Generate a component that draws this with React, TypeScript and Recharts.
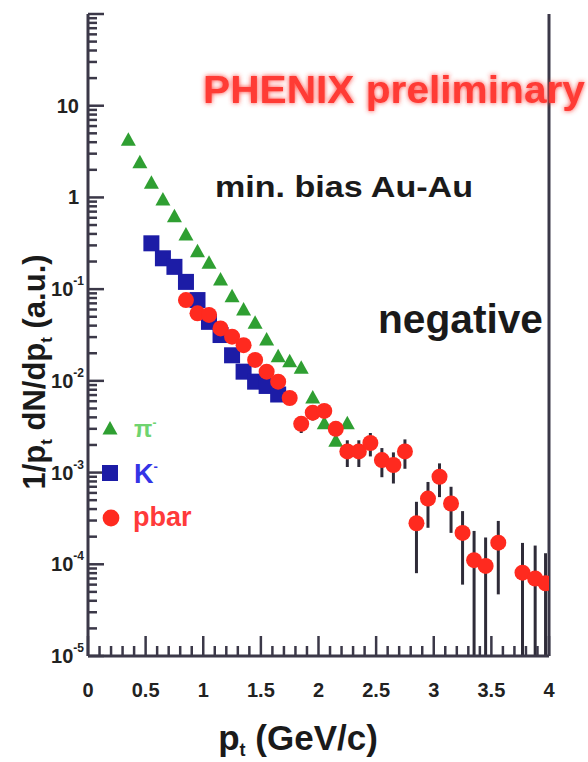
import React from 'react';
import { ScatterChart, Scatter, XAxis, YAxis, ErrorBar } from 'recharts';

// pi- (green triangles)
const piPt = [0.35, 0.45, 0.55, 0.65, 0.75, 0.85, 0.95, 1.05, 1.15, 1.25, 1.35, 1.45, 1.55, 1.65, 1.75, 1.85, 1.95, 2.05, 2.15, 2.25];
const piVal = [4.2, 2.39, 1.43, 0.94, 0.616, 0.389, 0.256, 0.191, 0.126, 0.0826, 0.0592, 0.0424, 0.0279, 0.0183, 0.0162, 0.0137, 0.0065, 0.0034, 0.0022, 0.0034];

// K- (blue squares)
const kPt = [0.55, 0.65, 0.75, 0.85, 0.95, 1.05, 1.15, 1.25, 1.35, 1.45, 1.55, 1.65];
const kVal = [0.316, 0.217, 0.175, 0.12, 0.076, 0.044, 0.0316, 0.019, 0.0126, 0.0098, 0.0088, 0.0071];

// pbar (red circles) with stat. errors
const pbarPt = [0.85, 0.95, 1.05, 1.15, 1.25, 1.35, 1.45, 1.55, 1.65, 1.75, 1.85, 1.95, 2.05, 2.15, 2.25, 2.35, 2.45, 2.55, 2.65, 2.75, 2.85, 2.95, 3.05, 3.15, 3.25, 3.35, 3.45, 3.56, 3.77, 3.88, 3.97];
const pbarVal = [0.076, 0.0545, 0.0524, 0.0373, 0.0303, 0.0245, 0.0169, 0.0126, 0.0098, 0.0065, 0.0034, 0.0045, 0.0047, 0.003, 0.0017, 0.0017, 0.0021, 0.00137, 0.00121, 0.0017, 0.00028, 0.00052, 0.0009, 0.00046, 0.00022, 0.000111, 0.000096, 0.000172, 0.000081, 0.00007, 0.000062];
const pbarErr = [0, 0, 0, 0, 0, 0, 0, 0, 0, 0, 0.0007, 0.0008, 0.0008, 0.0006, 0.00055, 0.00055, 0.0006, 0.00048, 0.00045, 0.0006, 0.0002, 0.00027, 0.00036, 0.00024, 0.00016, 0.00012, 0.0001, 0.000125, 0.00009, 0.00009, 0.00007];

const xMajor = [0, 0.5, 1, 1.5, 2, 2.5, 3, 3.5, 4];
const yDecades = [1e-5, 1e-4, 1e-3, 1e-2, 1e-1, 1, 10, 100];

const Y_MIN = 1e-5;
const AXIS = '#3b3848';
const FONT = '"Liberation Sans", Arial, sans-serif';

const xTicks: number[] = [];
for (let i = 0; i <= 40; i++) xTicks.push(i / 10);
const yTicks: number[] = [];
yDecades.forEach((d, i) => {
  yTicks.push(d);
  if (i < yDecades.length - 1) for (let m = 2; m <= 9; m++) yTicks.push(d * m);
});

const piData = piPt.map((x, i) => ({ x, y: piVal[i] }));
const kData = kPt.map((x, i) => ({ x, y: kVal[i] }));
// lower error stops at the axis minimum so the log scale stays valid
const pbarData = pbarPt.map((x, i) => ({
  x,
  y: pbarVal[i],
  err: [Math.min(pbarErr[i], pbarVal[i] - Y_MIN), pbarErr[i]],
}));

const Triangle = ({ cx, cy, s = 1 }: any) => (
  <polygon
    points={`${cx},${cy - 8 * s} ${cx - 7.5 * s},${cy + 5.5 * s} ${cx + 7.5 * s},${cy + 5.5 * s}`}
    fill="#2f9f32"
  />
);
const Square = ({ cx, cy, s = 1 }: any) => (
  <rect x={cx - 8 * s} y={cy - 8 * s} width={16 * s} height={16 * s} fill="#1c1ca6" />
);
const Circle = ({ cx, cy, s = 1 }: any) => <circle cx={cx} cy={cy} r={8 * s} fill="#ff2a1f" />;

const YTick = (props: any) => {
  const { x, y, payload } = props;
  const v = payload.value as number;
  const lg = Math.log10(v);
  const e = Math.round(lg);
  const major = Math.abs(lg - e) < 1e-6;
  let label = null;
  if (major && e < 2) {
    if (e >= 0) {
      label = (
        <text x={x - 9} y={y + 7} textAnchor="end" fontSize={20} fontWeight="bold" fill="#222" fontFamily={FONT}>
          {e === 1 ? '10' : '1'}
        </text>
      );
    } else {
      label = (
        <text x={x - 4} y={y + 7} textAnchor="end" fontSize={20} fontWeight="bold" fill="#222" fontFamily={FONT}>
          10
          <tspan dy={-11} fontSize={12}>{`${e}`}</tspan>
        </text>
      );
    }
  }
  return (
    <g>
      <line x1={x} x2={x + (major ? 16 : 9)} y1={y} y2={y} stroke={AXIS} strokeWidth={2.5} />
      {label}
    </g>
  );
};

const XTick = (props: any) => {
  const { x, y, payload } = props;
  const v = payload.value as number;
  const major = xMajor.some((m) => Math.abs(m - v) < 1e-6);
  return (
    <g>
      <line x1={x} x2={x} y1={y} y2={y - (major ? 20 : 10)} stroke={AXIS} strokeWidth={2.5} />
      {major && (
        <text x={x} y={y + 41} textAnchor="middle" fontSize={20} fontWeight="bold" fill="#222" fontFamily={FONT}>
          {String(Math.round(v * 10) / 10)}
        </text>
      )}
    </g>
  );
};

const txt = { fontFamily: FONT, fontWeight: 'bold' as const };

export default function App() {
  return (
    <div style={{ position: 'absolute', left: 0, top: 0, width: 588, height: 762, background: '#fff' }}>
      <ScatterChart width={588} height={762} margin={{ top: 14, right: 38, bottom: 0, left: 0 }}>
        <XAxis
          type="number"
          dataKey="x"
          domain={[0, 4]}
          ticks={xTicks}
          interval={0}
          tick={<XTick />}
          tickLine={false}
          tickSize={0}
          tickMargin={0}
          height={106}
          axisLine={{ stroke: AXIS, strokeWidth: 3 }}
          allowDataOverflow
        />
        <XAxis
          xAxisId="top"
          orientation="top"
          type="number"
          domain={[0, 4]}
          tick={false}
          tickLine={false}
          height={0}
          axisLine={{ stroke: AXIS, strokeWidth: 3 }}
        />
        <YAxis
          type="number"
          dataKey="y"
          scale="log"
          domain={[Y_MIN, 100]}
          ticks={yTicks}
          interval={0}
          tick={<YTick />}
          tickLine={false}
          tickSize={0}
          tickMargin={0}
          width={88}
          axisLine={{ stroke: AXIS, strokeWidth: 3 }}
          allowDataOverflow
        />
        <YAxis
          yAxisId="right"
          orientation="right"
          type="number"
          domain={[0, 1]}
          tick={false}
          tickLine={false}
          width={1}
          axisLine={{ stroke: AXIS, strokeWidth: 3 }}
        />
        <Scatter name="K-" data={kData} shape={(p: any) => <Square cx={p.cx} cy={p.cy} />} isAnimationActive={false} />
        <Scatter name="pi-" data={piData} shape={(p: any) => <Triangle cx={p.cx} cy={p.cy} />} isAnimationActive={false} />
        <Scatter name="pbar" data={pbarData} shape={(p: any) => <Circle cx={p.cx} cy={p.cy} />} isAnimationActive={false}>
          <ErrorBar dataKey="err" direction="y" width={0} stroke="#2e2b38" strokeWidth={3} isAnimationActive={false} />
        </Scatter>
      </ScatterChart>

      <svg
        width={588}
        height={762}
        style={{ position: 'absolute', left: 0, top: 0, pointerEvents: 'none' }}
      >
        <defs>
          <filter id="glow" x="-10%" y="-30%" width="120%" height="160%">
            <feGaussianBlur in="SourceGraphic" stdDeviation="2.5" result="b" />
            <feMerge>
              <feMergeNode in="b" />
              <feMergeNode in="SourceGraphic" />
            </feMerge>
          </filter>
        </defs>

        <text x={203} y={103} fontSize={39} fill="#ff3a34" filter="url(#glow)" textLength={382} lengthAdjust="spacingAndGlyphs" {...txt}>
          PHENIX preliminary
        </text>
        <text x={215} y={197} fontSize={30} fill="#1a1a1a" textLength={258} lengthAdjust="spacingAndGlyphs" {...txt}>
          min. bias Au-Au
        </text>
        <text x={378} y={333} fontSize={40} fill="#1a1a1a" textLength={165} lengthAdjust="spacingAndGlyphs" {...txt}>
          negative
        </text>

        {/* legend */}
        <Triangle cx={110} cy={429} />
        <text x={134} y={437} fontSize={24} fill="#6fd46f" {...txt}>
          π<tspan dy={-10} fontSize={12}>-</tspan>
        </text>
        <Square cx={110} cy={473} />
        <text x={134} y={483} fontSize={27} fill="#3434e6" {...txt}>
          K<tspan dy={-12} fontSize={13}>-</tspan>
        </text>
        <Circle cx={111} cy={518} s={1.05} />
        <text x={133} y={526} fontSize={27} fill="#ff3a3a" {...txt}>
          pbar
        </text>

        {/* axis titles */}
        <text transform="translate(45,372) rotate(-90)" textAnchor="middle" fontSize={31} fill="#1a1a1a" {...txt}>
          1/p<tspan dy={7} fontSize={17}>t</tspan>
          <tspan dy={-7}> dN/dp</tspan>
          <tspan dy={7} fontSize={17}>t</tspan>
          <tspan dy={-7}> (a.u.)</tspan>
        </text>
        <text x={298} y={750} textAnchor="middle" fontSize={35} fill="#1a1a1a" {...txt}>
          p<tspan dy={6} fontSize={18}>t</tspan>
          <tspan dy={-6}> (GeV/c)</tspan>
        </text>
      </svg>
    </div>
  );
}
